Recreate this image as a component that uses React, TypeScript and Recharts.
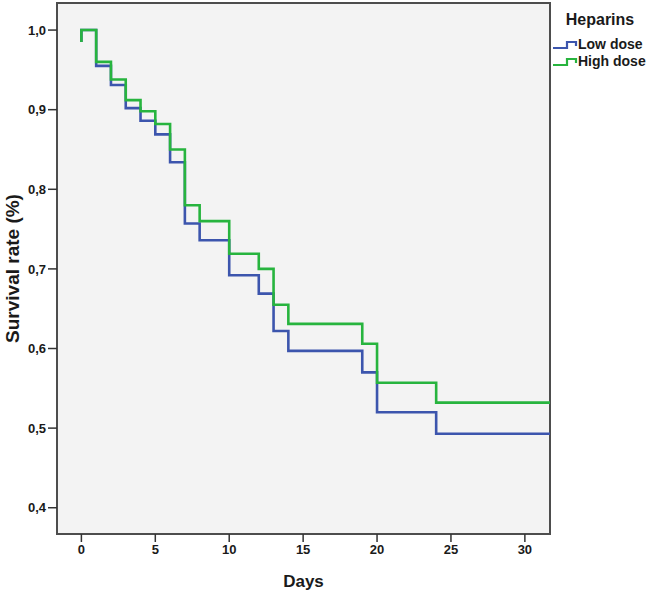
import { LineChart, Line, XAxis, YAxis, ReferenceArea, Label } from 'recharts';

// Kaplan-Meier steps (day, survival)
const DAYS = [0, 0, 1, 2, 3, 4, 5, 6, 7, 8, 10, 12, 13, 14, 19, 20, 24, 31.7];
const LOW_DOSE = [0.985, 1.0, 0.955, 0.931, 0.902, 0.886, 0.869, 0.834, 0.757, 0.736, 0.692, 0.669, 0.622, 0.597, 0.570, 0.520, 0.493, 0.493];
const HIGH_DOSE = [0.985, 1.0, 0.96, 0.938, 0.912, 0.898, 0.882, 0.85, 0.78, 0.76, 0.719, 0.7, 0.655, 0.631, 0.606, 0.557, 0.532, 0.532];

const X_TICKS = [0, 5, 10, 15, 20, 25, 30];
const Y_TICKS = [0.4, 0.5, 0.6, 0.7, 0.8, 0.9, 1.0];
const X_DOMAIN: [number, number] = [-1.65, 31.7];
const Y_DOMAIN: [number, number] = [0.367, 1.034];

const SERIES = [
  { name: 'Low dose', color: '#3c55ad', values: LOW_DOSE },
  { name: 'High dose', color: '#27b43e', values: HIGH_DOSE },
];

const FONT = '"Liberation Sans", Arial, sans-serif';
const tickStyle = { fontSize: 13, fontWeight: 700, fill: '#1a1a1a', fontFamily: FONT };

function StepIcon({ color }: { color: string }) {
  return (
    <svg width={25} height={10} style={{ display: 'block' }}>
      <path d="M0 8 H14 V2 H23 V6" fill="none" stroke={color} strokeWidth={2.2} />
    </svg>
  );
}

function ChartLegend() {
  return (
    <div style={{ position: 'absolute', left: 553, top: 10, fontFamily: FONT, fontWeight: 700, color: '#1a1a1a' }}>
      <div style={{ fontSize: 16, lineHeight: '19px', textAlign: 'center', width: 94, marginBottom: 7 }}>Heparins</div>
      {SERIES.map((s) => (
        <div key={s.name} style={{ display: 'flex', alignItems: 'center', gap: 0, fontSize: 14, lineHeight: '17px', whiteSpace: 'nowrap' }}>
          <StepIcon color={s.color} />
          <span>{s.name}</span>
        </div>
      ))}
    </div>
  );
}

export default function App() {
  return (
    <div style={{ position: 'absolute', left: 0, top: 0, width: 648, height: 591, background: '#fff' }}>
      <LineChart width={648} height={591} margin={{ top: 3, right: 98, bottom: 0, left: 0 }}>
        <ReferenceArea
          x1={X_DOMAIN[0]}
          x2={X_DOMAIN[1]}
          y1={Y_DOMAIN[0]}
          y2={Y_DOMAIN[1]}
          fill="#f3f3f3"
          fillOpacity={1}
          stroke="#4d4d4d"
          strokeWidth={2}
          ifOverflow="visible"
        />
        <XAxis
          type="number"
          dataKey="day"
          domain={X_DOMAIN}
          ticks={X_TICKS}
          allowDataOverflow
          axisLine={false}
          tickLine={{ stroke: '#333', strokeWidth: 1.5 }}
          tickSize={8}
          tickMargin={3}
          tick={tickStyle}
          height={57}
        >
          <Label value="Days" position="insideBottom" offset={4} style={{ fontSize: 17, fontWeight: 700, fill: '#1a1a1a', fontFamily: FONT }} />
        </XAxis>
        <YAxis
          type="number"
          domain={Y_DOMAIN}
          ticks={Y_TICKS}
          allowDataOverflow
          axisLine={false}
          tickLine={{ stroke: '#333', strokeWidth: 1.5 }}
          tickSize={9}
          tickMargin={2}
          tick={tickStyle}
          tickFormatter={(v: number) => v.toFixed(1).replace('.', ',')}
          width={57}
        >
          <Label
            value="Survival rate (%)"
            angle={-90}
            position="insideLeft"
            offset={12}
            style={{ textAnchor: 'middle', fontSize: 19, fontWeight: 700, fill: '#1a1a1a', fontFamily: FONT }}
          />
        </YAxis>
        {SERIES.map((s) => (
          <Line
            key={s.name}
            name={s.name}
            data={DAYS.map((d, i) => ({ day: d, value: s.values[i] }))}
            dataKey="value"
            type="stepAfter"
            stroke={s.color}
            strokeWidth={2.6}
            dot={false}
            activeDot={false}
            isAnimationActive={false}
          />
        ))}
      </LineChart>
      <ChartLegend />
    </div>
  );
}
